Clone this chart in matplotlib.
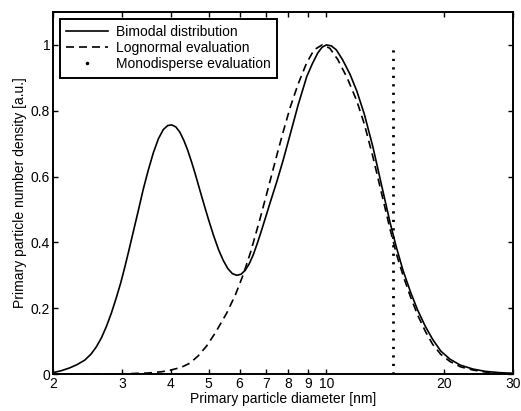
import numpy as np
import matplotlib
matplotlib.use("Agg")
import matplotlib.pyplot as plt
from matplotlib.lines import Line2D

plt.rcParams['font.family'] = ['Liberation Sans', 'DejaVu Sans']
plt.rcParams['font.size'] = 10

# Bimodal distribution
d_bi = [2.0, 2.1, 2.2, 2.3, 2.41, 2.5, 2.58, 2.66, 2.74, 2.82, 2.9, 2.98,
        3.06, 3.14, 3.22, 3.31, 3.40, 3.50, 3.61, 3.72, 3.83, 3.93, 4.02,
        4.12, 4.22, 4.32, 4.42, 4.52, 4.61, 4.75, 4.88, 5.0, 5.15, 5.3, 5.45,
        5.6, 5.75, 5.9, 6.05, 6.2, 6.35, 6.5, 6.65, 6.8, 7.0, 7.2, 7.47,
        7.75, 8.08, 8.47, 8.91, 9.2, 9.5, 9.75, 10.0, 10.3, 10.6, 11.0, 11.5,
        11.96, 12.5, 13.15, 13.8, 14.55, 15.1, 15.7, 16.4, 17.1, 17.9, 18.7,
        19.6, 20.7, 22.0, 23.7, 25.5, 27.8, 30.0]
v_bi = [0.004, 0.01, 0.018, 0.028, 0.042, 0.06, 0.082, 0.11, 0.145, 0.185,
        0.23, 0.277, 0.33, 0.385, 0.44, 0.50, 0.56, 0.617, 0.672, 0.715,
        0.743, 0.755, 0.757, 0.751, 0.735, 0.71, 0.68, 0.645, 0.612, 0.558,
        0.51, 0.468, 0.42, 0.378, 0.345, 0.32, 0.305, 0.30, 0.303, 0.315,
        0.335, 0.362, 0.395, 0.43, 0.478, 0.525, 0.585, 0.649, 0.728, 0.818,
        0.904, 0.942, 0.975, 0.993, 1.0, 0.997, 0.985, 0.955, 0.91, 0.86,
        0.79, 0.69, 0.58, 0.46, 0.385, 0.315, 0.25, 0.195, 0.145, 0.105,
        0.07, 0.045, 0.027, 0.015, 0.008, 0.004, 0.002]

# Lognormal evaluation
d_ln = [2.0, 2.5, 3.0, 3.5, 3.8, 4.0, 4.25, 4.48, 4.7, 4.94, 5.2, 5.56, 5.85,
        6.12, 6.4, 6.76, 7.1, 7.47, 7.75, 8.08, 8.46, 8.9, 9.3, 9.75, 10.2,
        10.7, 11.3, 11.96, 12.5, 13.15, 13.8, 14.55, 15.1, 15.7, 16.4, 17.1,
        17.9, 18.7, 19.6, 20.7, 22.0, 23.7, 25.5, 27.8, 30.0]
v_ln = [0.0, 0.0, 0.0005, 0.003, 0.007, 0.012, 0.02, 0.033, 0.055, 0.085,
        0.125, 0.185, 0.24, 0.30, 0.37, 0.47, 0.565, 0.665, 0.735, 0.81,
        0.88, 0.945, 0.985, 1.0, 0.99, 0.955, 0.9, 0.83, 0.76, 0.66, 0.555,
        0.44, 0.365, 0.30, 0.235, 0.18, 0.13, 0.09, 0.06, 0.038, 0.022,
        0.012, 0.006, 0.003, 0.001]

# Monodisperse evaluation
d_mono = [14.8, 14.8]
v_mono = [0.0, 1.0]

xticks = [2, 3, 4, 5, 6, 7, 8, 9, 10, 20, 30]
yticks = [0, 0.2, 0.4, 0.6, 0.8, 1]
ytick_labels = ["0", "0.2", "0.4", "0.6", "0.8", "1"]

fig = plt.figure(figsize=(5.21, 4.11), dpi=100)
ax = fig.add_axes([53/521, 37/411, 460/521, 362/411])

ax.plot(d_bi, v_bi, color='k', lw=1.2)
ax.plot(d_ln, v_ln, color='k', lw=1.2, linestyle=(0, (4.8, 3.0)))
ax.plot(d_mono, v_mono, color='k', lw=2.0, linestyle=(0, (0.8, 2.25)))

ax.set_xscale('log')
ax.set_xlim(2, 30)
ax.set_ylim(0, 1.1)
ax.set_xticks(xticks)
ax.set_xticklabels([str(t) for t in xticks])
ax.xaxis.set_minor_locator(matplotlib.ticker.NullLocator())
ax.set_yticks(yticks)
ax.set_yticklabels(ytick_labels)
ax.tick_params(direction='in', top=True, right=True, length=3.5, width=1.0,
               pad=2, labelsize=10)
for s in ax.spines.values():
    s.set_linewidth(1.4)

ax.set_xlabel("Primary particle diameter [nm]", labelpad=1)
ax.set_ylabel("Primary particle number density [a.u.]", labelpad=3)

handles = [Line2D([], [], color='k', lw=1.2),
           Line2D([], [], color='k', lw=1.2, linestyle=(0, (4.8, 3.0))),
           Line2D([], [], color='k', ls='none', marker='.', markersize=3)]
labels = ["Bimodal distribution", "Lognormal evaluation",
          "Monodisperse evaluation"]
leg = ax.legend(handles, labels, loc='upper left', fontsize=10,
                handlelength=3.0, handletextpad=0.55, labelspacing=0.15,
                borderpad=0.45, borderaxespad=0.5, fancybox=False,
                framealpha=1, edgecolor='k')
leg.get_frame().set_linewidth(1.4)

fig.savefig("out.png", dpi=100)
